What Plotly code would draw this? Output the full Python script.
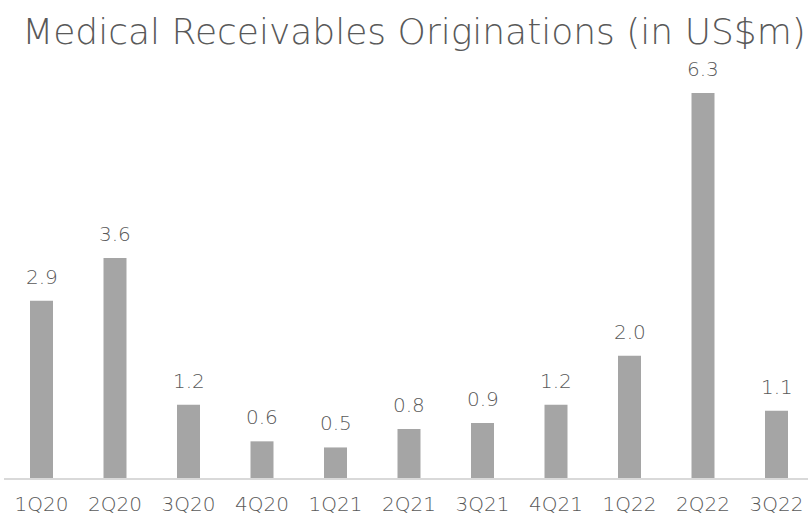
import plotly.graph_objects as go

quarters = ["1Q20", "2Q20", "3Q20", "4Q20", "1Q21", "2Q21", "3Q21", "4Q21", "1Q22", "2Q22", "3Q22"]
originations = [2.9, 3.6, 1.2, 0.6, 0.5, 0.8, 0.9, 1.2, 2.0, 6.3, 1.1]
title_text = "Medical Receivables Originations (in US$m)"

FONT = "DejaVu Sans"
TXT = "#595959"

fig = go.Figure()
fig.add_trace(go.Bar(
    x=list(range(len(quarters))), y=originations,
    marker=dict(color="#A5A5A5", line=dict(width=0)),
    width=0.313, hoverinfo="skip",
))

for i, v in enumerate(originations):
    fig.add_annotation(x=i, y=v, text=f"{v:.1f}", showarrow=False,
                       yanchor="bottom", yshift=10,
                       font=dict(family=FONT, size=20, color=TXT, weight=300))

fig.update_layout(
    width=808, height=520,
    margin=dict(l=4, r=0, t=60, b=42, autoexpand=False),
    paper_bgcolor="white", plot_bgcolor="white",
    showlegend=False,
    title=dict(text=title_text, x=414 / 808, xanchor="center",
               y=1 - 44 / 520, yanchor="bottom", yref="container",
               font=dict(family=FONT, size=36, color=TXT, weight=300), pad=dict(b=0)),
    xaxis=dict(
        range=[-0.5102, 10.4286], tickmode="array",
        tickvals=list(range(len(quarters))), ticktext=quarters,
        showgrid=False, zeroline=False, automargin=False,
        showline=True, linecolor="#D9D9D9", linewidth=2,
        ticks="", ticklabelstandoff=7,
        tickfont=dict(family=FONT, size=20, color=TXT, weight=300),
    ),
    yaxis=dict(range=[0, 418 / 61.1], visible=False, showgrid=False,
               zeroline=False, automargin=False),
)

fig.write_html("out.html")
